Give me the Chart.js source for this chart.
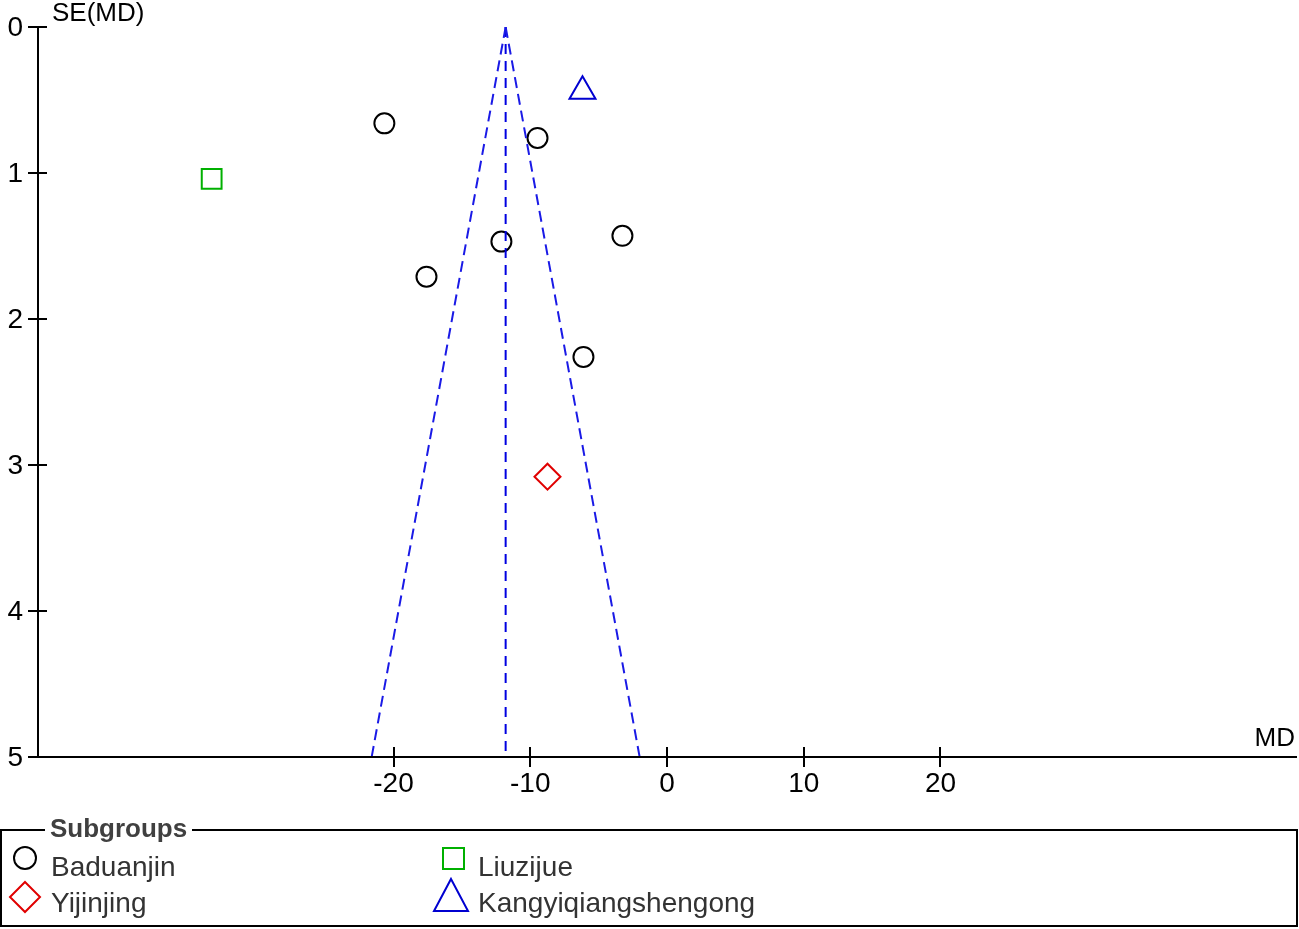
<!DOCTYPE html>
<html>
<head>
<meta charset="utf-8">
<script src="https://cdn.jsdelivr.net/npm/chart.js@4/dist/chart.umd.min.js"></script>
<style>
  html,body{margin:0;padding:0;background:#fff;}
  body{width:1299px;height:929px;position:relative;overflow:hidden;font-family:"Liberation Sans",Arial,sans-serif;}
  #c{position:absolute;left:0;top:0;}
  .lg{position:absolute;font-size:28px;line-height:28px;color:#333;white-space:nowrap;}
  #box{position:absolute;left:0px;top:829px;width:1294px;height:94px;border:2px solid #000;}
  #ttl{position:absolute;left:45px;top:815px;background:#fff;padding:0 5px;font-weight:bold;font-size:26px;line-height:27px;color:#404040;}
  svg{position:absolute;overflow:visible;}
</style>
</head>
<body>
<canvas id="c" width="1299" height="929"></canvas>
<div id="box"></div>
<div id="ttl">Subgroups</div>
<svg style="left:0;top:0" width="1299" height="929">
  <circle cx="25" cy="858" r="11" fill="none" stroke="#000" stroke-width="2"/>
  <rect x="443" y="848" width="21" height="21" fill="none" stroke="#00b000" stroke-width="2"/>
  <polygon points="25,882 40,897 25,912 10,897" fill="none" stroke="#e00000" stroke-width="2"/>
  <polygon points="451,879 468,911 434,911" fill="none" stroke="#0000d0" stroke-width="2"/>
</svg>
<div class="lg" style="left:51px;top:853px">Baduanjin</div>
<div class="lg" style="left:51px;top:889px">Yijinjing</div>
<div class="lg" style="left:478px;top:853px">Liuzijue</div>
<div class="lg" style="left:478px;top:889px">Kangyiqiangshengong</div>
<script>
// ---- data ----
const pooledMD = -11.8;
const seMax = 5;
const funnelHalfWidth = 1.96 * seMax;
const baduanjinMD = [-20.67, -9.47, -17.59, -12.11, -3.26, -6.11];
const baduanjinSE = [0.66, 0.76, 1.71, 1.47, 1.43, 2.26];
const liuzijueMD = [-33.3];
const liuzijueSE = [1.04];
const yijinjingMD = [-8.74];
const yijinjingSE = [3.08];
const kangMD = [-6.18];
const kangSE = [0.44];
const xTicks = [-20, -10, 0, 10, 20];
const yTicks = [0, 1, 2, 3, 4, 5];

const pts = (xs, ys) => xs.map((x, i) => ({x: x, y: ys[i]}));

const axesPlugin = {
  id: 'axesPlugin',
  afterDraw(chart) {
    const ctx = chart.ctx;
    const xs = chart.scales.x, ys = chart.scales.y;
    const x0 = xs.left, yb = ys.bottom, yt = ys.top;
    ctx.save();
    ctx.strokeStyle = '#000';
    ctx.lineWidth = 2;
    ctx.beginPath();
    ctx.moveTo(x0, yt); ctx.lineTo(x0, yb);
    ctx.moveTo(28, yb); ctx.lineTo(1297, yb);
    yTicks.forEach(v => { const p = Math.round(ys.getPixelForValue(v)); ctx.moveTo(28, p); ctx.lineTo(47, p); });
    xTicks.forEach(v => { const p = Math.round(xs.getPixelForValue(v)); ctx.moveTo(p, yb - 10); ctx.lineTo(p, yb + 10); });
    ctx.stroke();
    ctx.fillStyle = '#000';
    ctx.font = '28px "Liberation Sans", Arial, sans-serif';
    ctx.textAlign = 'right'; ctx.textBaseline = 'middle';
    yTicks.forEach(v => ctx.fillText(String(v), 23, ys.getPixelForValue(v) + 1));
    ctx.textAlign = 'center'; ctx.textBaseline = 'alphabetic';
    xTicks.forEach(v => ctx.fillText(String(v), xs.getPixelForValue(v), 792));
    ctx.font = '26px "Liberation Sans", Arial, sans-serif';
    ctx.textAlign = 'left';
    ctx.fillText('SE(MD)', 52, 21);
    ctx.textAlign = 'right';
    ctx.fillText('MD', 1295, 746);
    ctx.restore();
  }
};

const blue = '#1a1ae6';
new Chart(document.getElementById('c'), {
  type: 'scatter',
  data: {
    datasets: [
      {data: [{x: pooledMD, y: 0}, {x: pooledMD - funnelHalfWidth, y: seMax}], showLine: true, borderColor: blue, borderWidth: 2, borderDash: [11, 6], pointRadius: 0},
      {data: [{x: pooledMD, y: 0}, {x: pooledMD + funnelHalfWidth, y: seMax}], showLine: true, borderColor: blue, borderWidth: 2, borderDash: [11, 6], pointRadius: 0},
      {data: [{x: pooledMD, y: 0}, {x: pooledMD, y: seMax}], showLine: true, borderColor: '#0000e0', borderWidth: 2, borderDash: [10, 7], pointRadius: 0},
      {label: 'Baduanjin', data: pts(baduanjinMD, baduanjinSE), pointStyle: 'circle', pointRadius: 10, borderColor: '#000', borderWidth: 2, backgroundColor: 'rgba(0,0,0,0)'},
      {label: 'Liuzijue', data: pts(liuzijueMD, liuzijueSE), pointStyle: 'rect', pointRadius: 14, borderColor: '#00b000', borderWidth: 2, backgroundColor: 'rgba(0,0,0,0)'},
      {label: 'Yijinjing', data: pts(yijinjingMD, yijinjingSE), pointStyle: 'rectRot', pointRadius: 13, borderColor: '#e00000', borderWidth: 2, backgroundColor: 'rgba(0,0,0,0)'},
      {label: 'Kangyiqiangshengong', data: pts(kangMD, kangSE), pointStyle: 'triangle', pointRadius: 15, borderColor: '#0000d0', borderWidth: 2, backgroundColor: 'rgba(0,0,0,0)'}
    ]
  },
  options: {
    responsive: false,
    animation: false,
    layout: {autoPadding: false, padding: {left: 38, right: 3, top: 27, bottom: 172}},
    plugins: {legend: {display: false}, tooltip: {enabled: false}},
    scales: {
      x: {type: 'linear', min: -46, max: 46, display: false},
      y: {type: 'linear', min: 0, max: 5, reverse: true, display: false}
    },
    elements: {line: {tension: 0}}
  },
  plugins: [axesPlugin]
});
</script>
</body>
</html>
